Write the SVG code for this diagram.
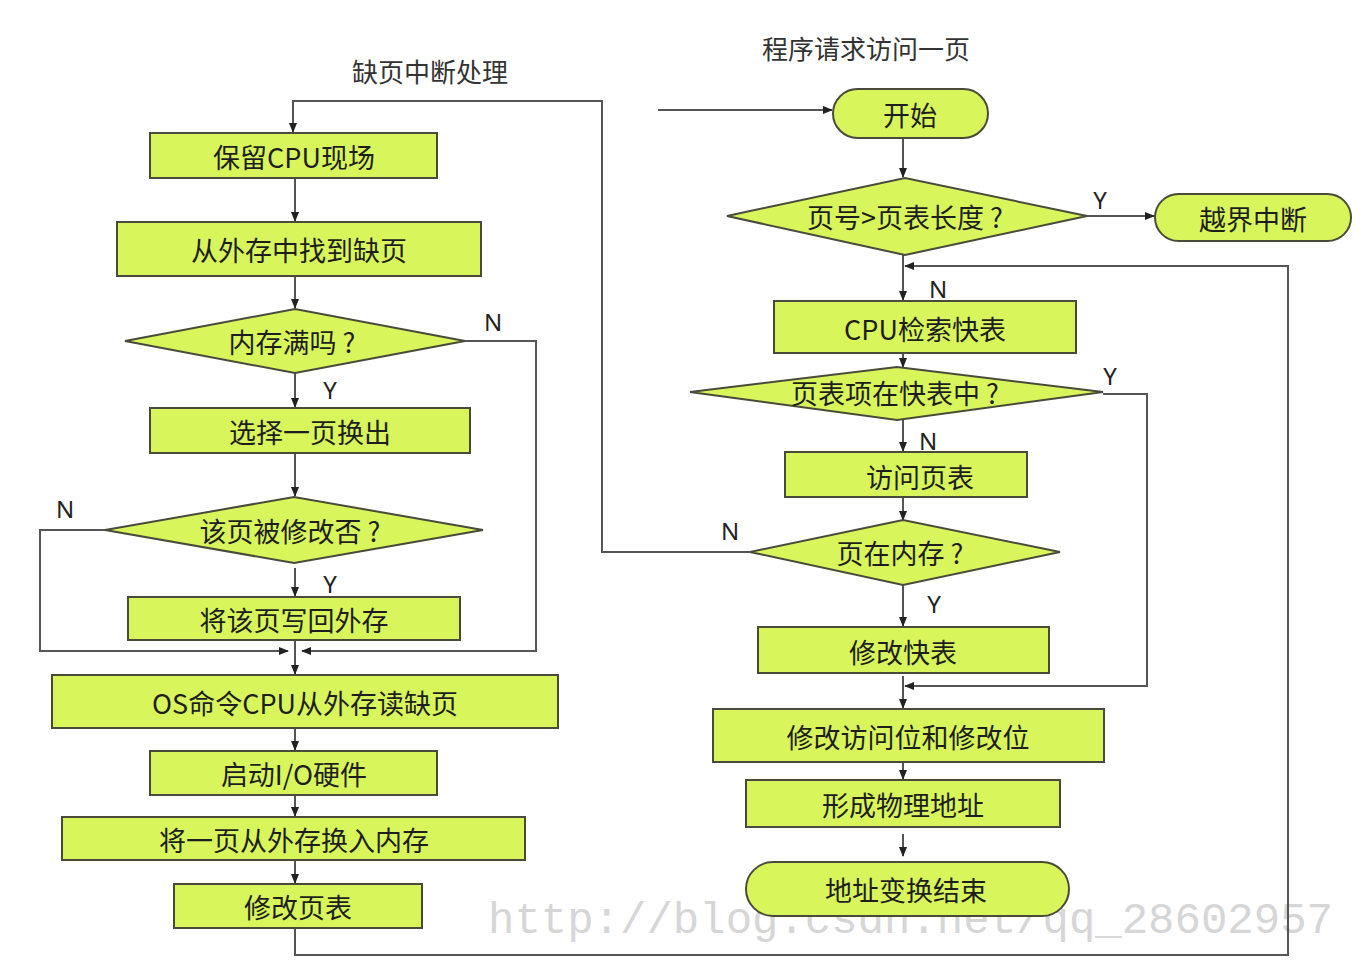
<svg xmlns="http://www.w3.org/2000/svg" width="1372" height="972" viewBox="0 0 1372 972">
<defs>
<marker id="arr" markerUnits="userSpaceOnUse" markerWidth="10" markerHeight="10" viewBox="0 0 10 10" refX="9" refY="5" orient="auto">
<path d="M0,1 L10,5 L0,9 z" fill="#222"/>
</marker>
</defs>
<style>
.box{fill:#d8f55c;stroke:#4a4a3a;stroke-width:2}
.t{font-family:"Noto Sans CJK SC","Noto Sans",sans-serif;font-size:27px;fill:#1e1e1e;text-anchor:middle;dominant-baseline:central}
.title{font-family:"Noto Sans CJK SC","Noto Sans",sans-serif;font-size:26px;fill:#333;text-anchor:middle;dominant-baseline:central}
.lbl{font-family:"Noto Sans","DejaVu Sans",sans-serif;font-size:24px;fill:#222;text-anchor:middle;dominant-baseline:central}
.c{fill:none;stroke:#555;stroke-width:2}
.a{marker-end:url(#arr)}
.wm{font-family:"Liberation Mono",monospace;font-size:44px;fill:#d6d6d6}
</style>
<rect width="1372" height="972" fill="#fff"/>
<text class="wm" x="488" y="933">http://blog.csdn.net/qq_28602957</text>
<text class="title" x="430" y="70">缺页中断处理</text>
<text class="title" x="866" y="47">程序请求访问一页</text>
<g id="connectors">
<path class="c a" d="M295,178 V221"/>
<path class="c a" d="M295,276 V308"/>
<path class="c a" d="M295,373 V407"/>
<path class="c a" d="M295,453 V496"/>
<path class="c a" d="M295,568 V596"/>
<path class="c a" d="M465,341 H536 V651 H302"/>
<path class="c a" d="M105,530 H40 V651 H288"/>
<path class="c a" d="M295,640 V674"/>
<path class="c a" d="M295,728 V750"/>
<path class="c a" d="M295,795 V816"/>
<path class="c a" d="M295,860 V883"/>
<path class="c a" d="M295,928 V955 H1288 V266 H905"/>
<path class="c a" d="M750,552 H602 V101 H293 V132"/>
<path class="c a" d="M658,110 H832"/>
<path class="c a" d="M903,138 V177"/>
<path class="c a" d="M1087,216 H1154"/>
<path class="c a" d="M903,255 V300"/>
<path class="c a" d="M903,353 V367"/>
<path class="c a" d="M903,420 V451"/>
<path class="c a" d="M903,497 V520"/>
<path class="c a" d="M903,585 V626"/>
<path class="c a" d="M1103,394 H1147 V686 H905"/>
<path class="c a" d="M903,676 V708"/>
<path class="c a" d="M903,762 V779"/>
<path class="c a" d="M903,834 V856"/>
</g>
<g id="labels">
<text class="lbl" x="493" y="321">N</text>
<text class="lbl" x="330" y="389">Y</text>
<text class="lbl" x="65" y="508">N</text>
<text class="lbl" x="330" y="583">Y</text>
<text class="lbl" x="1100" y="199">Y</text>
<text class="lbl" x="938" y="288">N</text>
<text class="lbl" x="1110" y="375">Y</text>
<text class="lbl" x="928" y="440">N</text>
<text class="lbl" x="730" y="530">N</text>
<text class="lbl" x="934" y="603">Y</text>
</g>
<g id="n1"><rect class="box" x="150" y="133" width="287" height="45"/><text class="t" x="294" y="156">保留CPU现场</text></g>
<g id="n2"><rect class="box" x="117" y="222" width="364" height="54"/><text class="t" x="299" y="249">从外存中找到缺页</text></g>
<g id="n3"><polygon class="box" points="125,341 295,309 465,341 295,373"/><text class="t" x="292" y="341">内存满吗 ?</text></g>
<g id="n4"><rect class="box" x="150" y="408" width="320" height="45"/><text class="t" x="310" y="431">选择一页换出</text></g>
<g id="n5"><polygon class="box" points="105,530 294,497 483,530 294,563"/><text class="t" x="290" y="530">该页被修改否 ?</text></g>
<g id="n6"><rect class="box" x="128" y="597" width="332" height="43"/><text class="t" x="294" y="619">将该页写回外存</text></g>
<g id="n7"><rect class="box" x="52" y="675" width="506" height="53"/><text class="t" x="305" y="702">OS命令CPU从外存读缺页</text></g>
<g id="n8"><rect class="box" x="150" y="751" width="287" height="44"/><text class="t" x="294" y="773">启动I/O硬件</text></g>
<g id="n9"><rect class="box" x="62" y="817" width="463" height="43"/><text class="t" x="294" y="839">将一页从外存换入内存</text></g>
<g id="n10"><rect class="box" x="174" y="884" width="248" height="44"/><text class="t" x="298" y="906">修改页表</text></g>
<g id="r1"><rect class="box" x="833" y="89" width="155" height="49" rx="24.5"/><text class="t" x="910" y="114">开始</text></g>
<g id="r2"><polygon class="box" points="727,216 905,178 1087,216 905,255"/><text class="t" x="905" y="216">页号&gt;页表长度 ?</text></g>
<g id="r3"><rect class="box" x="1155" y="194" width="196" height="47" rx="23.5"/><text class="t" x="1253" y="218">越界中断</text></g>
<g id="r4"><rect class="box" x="774" y="301" width="302" height="52"/><text class="t" x="925" y="328">CPU检索快表</text></g>
<g id="r5"><polygon class="box" points="690,392 897,367 1103,392 897,420"/><text class="t" x="895" y="392">页表项在快表中 ?</text></g>
<g id="r6"><rect class="box" x="785" y="452" width="242" height="45"/><text class="t" x="920" y="476">访问页表</text></g>
<g id="r7"><polygon class="box" points="750,552 903,520 1060,552 903,585"/><text class="t" x="900" y="552">页在内存 ?</text></g>
<g id="r8"><rect class="box" x="758" y="627" width="291" height="46"/><text class="t" x="903" y="651">修改快表</text></g>
<g id="r9"><rect class="box" x="713" y="709" width="391" height="53"/><text class="t" x="908" y="736">修改访问位和修改位</text></g>
<g id="r10"><rect class="box" x="746" y="780" width="314" height="47"/><text class="t" x="903" y="804">形成物理地址</text></g>
<g id="r11"><rect class="box" x="746" y="862" width="323" height="54" rx="27"/><text class="t" x="906" y="889">地址变换结束</text></g>
</svg>
